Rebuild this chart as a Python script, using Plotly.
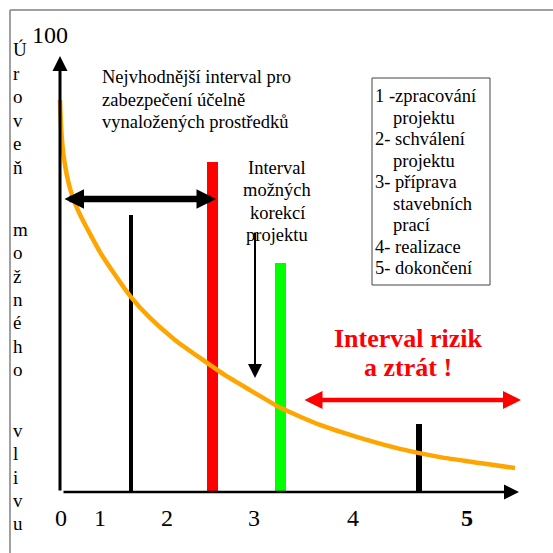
import plotly.graph_objects as go

# ---------------- data ----------------
# orange curve: level of possible influence (0..100) along the project time axis
curve_x = [0, 0.1, 0.25, 0.45, 0.7, 1.05, 1.5, 2.1, 2.8, 4.0, 5.5, 7.1, 9.0, 11.5,
           14.0, 16.5, 19.0, 22.1, 26.0, 30.0, 34.0, 38.0, 42.0, 45.5]
curve_y = [100, 93.6, 88.3, 84.2, 80.6, 77.0, 73.7, 70.2, 66.8, 61.2, 55.4, 49.7,
           44.4, 38.8, 34.2, 29.8, 26.0, 21.4, 17.1, 13.8, 11.0, 8.9, 7.4, 6.1]

# vertical milestone bars
bar_x = [7.1, 15.25, 22.05, 35.9]
bar_h = [70.7, 84.2, 58.4, 17.3]
bar_w = [0.45, 1.1, 1.1, 0.55]
bar_colors = ["#000000", "#FF0000", "#00FF00", "#000000"]

# phase labels on the time axis
phase_labels = ["0", "1", "2", "3", "4", "5"]
phase_pos = [0.1, 4.0, 10.7, 19.4, 29.3, 40.7]

y_top_label = "100"
ylabel_letters = ["Ú", "r", "o", "v", "e", "ň", "m", "o", "ž", "n", "é", "h", "o",
                  "v", "l", "i", "v", "u"]
ylabel_py = [49, 73, 96, 120, 143, 167, 229, 252, 276, 299, 322, 346, 369,
             430, 453, 477, 500, 523]

text_best = ["Nejvhodnější interval pro", "zabezpečení účelně", "vynaložených prostředků"]
text_korekce = ["Interval", "možných", "korekcí", "projektu"]
legend_lines = ["1 -zpracování", "projektu", "2- schválení", "projektu", "3- příprava",
                "stavebních", "prací", "4- realizace", "5- dokončení"]
legend_indent = [False, True, False, True, False, True, True, False, False]
risk_lines = ["Interval rizik", "a ztrát !"]

# ---------------- layout helpers (pixel -> data) ----------------
X0, SX = 60.0, 10.0
Y0, SY = 492.0, 3.92


def px(v):
    return (v - X0) / SX


def py(v):
    return (Y0 - v) / SY


SERIF = "Liberation Serif, Times New Roman, serif"

fig = go.Figure()

fig.add_trace(go.Bar(x=bar_x, y=bar_h, width=bar_w, marker=dict(color=bar_colors, line=dict(width=0)),
                     showlegend=False, hoverinfo="skip"))
fig.add_trace(go.Scatter(x=curve_x, y=curve_y, mode="lines",
                         line=dict(color="#FFA500", width=4.5, shape="spline", smoothing=0.5),
                         showlegend=False, hoverinfo="skip"))

ann = []


def arrow(x_tip, y_tip, x_tail, y_tail, color, width, size, both=False):
    ann.append(dict(x=px(x_tip), y=py(y_tip), ax=px(x_tail), ay=py(y_tail),
                    xref="x", yref="y", axref="x", ayref="y", text="", showarrow=True,
                    arrowhead=2, startarrowhead=2, arrowsize=size, startarrowsize=size,
                    arrowwidth=width, arrowcolor=color, standoff=0, startstandoff=0,
                    arrowside="end+start" if both else "end"))


# axes
arrow(60, 56, 60, 492, "#000000", 3, 1.0)
arrow(519, 492, 62, 492, "#000000", 2.5, 1.2)
# double arrows
arrow(216, 199, 63, 199, "#000000", 6.5, 0.6, both=True)
arrow(521, 400, 303, 400, "#FF0000", 4.5, 0.8, both=True)
# small down arrow
arrow(255, 378, 255, 231, "#000000", 2, 1.4)


def txt(s, x, y, size, xanchor="left", color="#000000", bold=False):
    ann.append(dict(x=px(x), y=py(y), xref="x", yref="y", text=("<b>%s</b>" % s) if bold else s,
                    showarrow=False, xanchor=xanchor, yanchor="middle",
                    font=dict(family=SERIF, size=size, color=color)))


txt(y_top_label, 50, 35, 24, xanchor="center")
for l, yy in zip(ylabel_letters, ylabel_py):
    txt(l, 11, yy, 19)

for i, l in enumerate(text_best):
    txt(l, 100, 77 + 22.5 * i, 18.5)
for i, l in enumerate(text_korekce):
    txt(l, 277, 168 + 22.3 * i, 18.5, xanchor="center")
for i, (l, ind) in enumerate(zip(legend_lines, legend_indent)):
    txt(l, 391 if ind else 373, 96 + 21.5 * i, 18.5)
for i, l in enumerate(risk_lines):
    txt(l, 408, 338 + 29 * i, 26, xanchor="center", color="#FF0000", bold=True)

for lab, pos in zip(phase_labels, phase_pos):
    txt(lab, X0 + pos * SX, 518, 24, xanchor="center", bold=(lab == "5"))

shapes = [
    # outer frame
    dict(type="line", xref="x", yref="y", x0=px(10), y0=py(10), x1=px(553), y1=py(10),
         line=dict(color="#808080", width=1.5)),
    dict(type="line", xref="x", yref="y", x0=px(10), y0=py(10), x1=px(10), y1=py(553),
         line=dict(color="#808080", width=1.5)),
    # legend box
    dict(type="rect", xref="x", yref="y", x0=px(372), y0=py(78), x1=px(490), y1=py(285),
         line=dict(color="#444444", width=1), fillcolor="rgba(0,0,0,0)"),
]

fig.update_layout(
    width=553, height=553, autosize=False,
    margin=dict(l=0, r=0, t=0, b=0, pad=0),
    paper_bgcolor="white", plot_bgcolor="white",
    xaxis=dict(range=[px(0), px(553)], visible=False, fixedrange=True),
    yaxis=dict(range=[py(553), py(0)], visible=False, fixedrange=True),
    annotations=ann, shapes=shapes, bargap=0,
)

fig.write_html("out.html", config={"displayModeBar": False},
               post_script="document.body.style.margin='0';document.body.style.overflow='hidden';")
